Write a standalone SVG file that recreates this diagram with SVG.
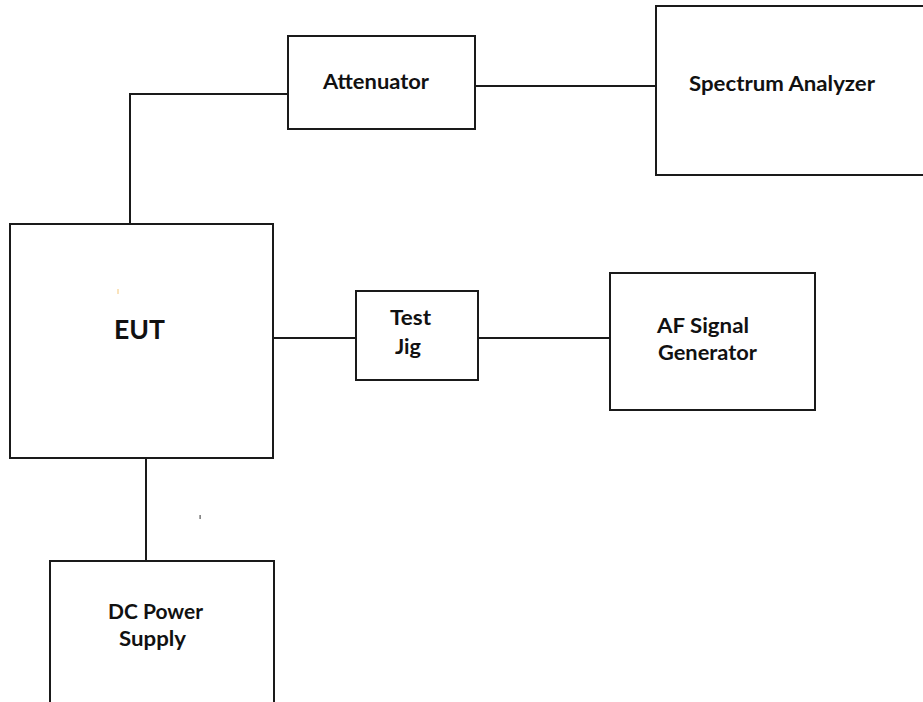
<svg xmlns="http://www.w3.org/2000/svg" width="923" height="702" viewBox="0 0 923 702">
<style>
.box{fill:#fff;stroke:#1a1a1a;stroke-width:2}
.wire{fill:none;stroke:#1a1a1a;stroke-width:2}
.lbl{font-family:Lato,"Liberation Sans",sans-serif;font-weight:700;font-size:20px;fill:#111}
.big{font-size:26px}
</style>
<rect width="923" height="702" fill="#fff"/>
<g id="connectors">
<polyline class="wire" points="130,224 130,94 290,94"/>
<line class="wire" x1="475" y1="86" x2="656" y2="86"/>
<line class="wire" x1="273" y1="338" x2="356" y2="338"/>
<line class="wire" x1="478" y1="338" x2="610" y2="338"/>
<line class="wire" x1="146" y1="458" x2="146" y2="561"/>
</g>
<g id="attenuator">
<rect class="box" x="288" y="36" width="187" height="93"/>
<text class="lbl" x="323" y="89" textLength="106" lengthAdjust="spacingAndGlyphs">Attenuator</text>
</g>
<g id="spectrum-analyzer">
<rect class="box" x="656" y="6" width="270" height="169"/>
<text class="lbl" x="689" y="91" textLength="186" lengthAdjust="spacingAndGlyphs">Spectrum Analyzer</text>
</g>
<g id="eut">
<rect class="box" x="10" y="224" width="263" height="234"/>
<text class="lbl big" x="114" y="339" textLength="51" lengthAdjust="spacingAndGlyphs">EUT</text>
<rect x="117.5" y="289" width="1" height="5" fill="#f5c77a"/>
</g>
<g id="test-jig">
<rect class="box" x="356" y="291" width="122" height="89"/>
<text class="lbl" x="390" y="325" textLength="41" lengthAdjust="spacingAndGlyphs">Test</text>
<text class="lbl" x="395" y="354" textLength="26" lengthAdjust="spacingAndGlyphs">Jig</text>
</g>
<g id="af-signal-generator">
<rect class="box" x="610" y="273" width="205" height="137"/>
<text class="lbl" x="657" y="333" textLength="92" lengthAdjust="spacingAndGlyphs">AF Signal</text>
<text class="lbl" x="658" y="360" textLength="99" lengthAdjust="spacingAndGlyphs">Generator</text>
</g>
<g id="dc-power-supply">
<rect class="box" x="50" y="561" width="224" height="150"/>
<text class="lbl" x="108" y="619" textLength="95" lengthAdjust="spacingAndGlyphs">DC Power</text>
<text class="lbl" x="119" y="646" textLength="67" lengthAdjust="spacingAndGlyphs">Supply</text>
</g>
<rect x="199.5" y="515" width="1.2" height="4" fill="#555"/>
</svg>
